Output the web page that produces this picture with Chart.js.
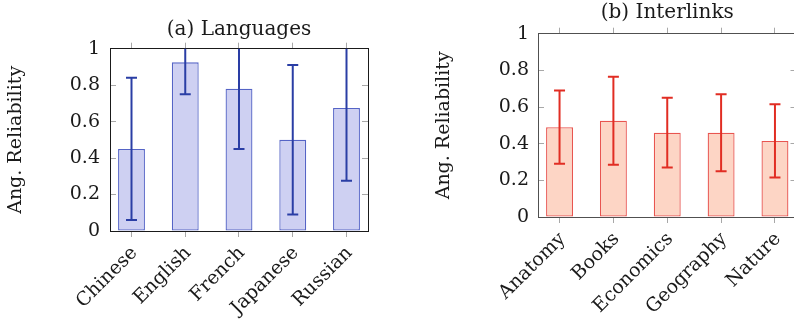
<!DOCTYPE html>
<html><head><meta charset="utf-8">
<script src="https://cdn.jsdelivr.net/npm/chart.js@4"></script>
<style>
html,body{margin:0;padding:0;overflow:hidden;background:#fff;width:794px;height:324px;position:relative;}
#ca{position:absolute;left:0;top:0;}
#cb{position:absolute;left:420px;top:0;}
</style></head><body>
<canvas id="ca" width="400" height="324"></canvas>
<canvas id="cb" width="400" height="324"></canvas>
<script>
const languages = ['Chinese', 'English', 'French', 'Japanese', 'Russian'];
const languageMeans = [0.45, 0.925, 0.78, 0.50, 0.675];
const languageErrors = [0.39, 0.175, 0.33, 0.41, 0.40];
const topics = ['Anatomy', 'Books', 'Economics', 'Geography', 'Nature'];
const topicMeans = [0.49, 0.525, 0.46, 0.46, 0.415];
const topicErrors = [0.20, 0.24, 0.19, 0.21, 0.20];
const yTicks = [0, 0.2, 0.4, 0.6, 0.8, 1];
const yLabel = 'Ang. Reliability';

const FONT = 'DejaVu Serif';
const TEXT = '#1a1a1a';
const TICKC = '#a8a8a8';

function errorBarPlugin(means, errors, color) {
  return {
    id: 'errorBars',
    afterDatasetsDraw(chart) {
      const {ctx, chartArea, scales} = chart;
      const xs = scales.x, ys = scales.y;
      ctx.save();
      ctx.beginPath();
      ctx.rect(chartArea.left, chartArea.top, chartArea.right - chartArea.left, chartArea.bottom - chartArea.top);
      ctx.clip();
      ctx.strokeStyle = color;
      ctx.lineWidth = 2;
      const cap = 5.5;
      means.forEach((m, i) => {
        const x = xs.getPixelForValue(i);
        const y1 = ys.getPixelForValue(m + errors[i]);
        const y2 = ys.getPixelForValue(m - errors[i]);
        ctx.beginPath();
        ctx.moveTo(x, y1); ctx.lineTo(x, y2);
        ctx.moveTo(x - cap, y1); ctx.lineTo(x + cap, y1);
        ctx.moveTo(x - cap, y2); ctx.lineTo(x + cap, y2);
        ctx.stroke();
      });
      ctx.restore();
    }
  };
}

function makeChart(id, cats, means, errors, title, st) {
  const catTicks = s => { s.ticks = cats.map((c, i) => ({value: i})); };
  const valTicks = s => { s.ticks = yTicks.map(v => ({value: v})); };
  const border = {display: true, color: st.frame, width: 1};
  return new Chart(document.getElementById(id), {
    type: 'bar',
    data: {
      datasets: [{
        data: cats.map((c, i) => ({x: i, y: means[i]})),
        xAxisID: 'x', yAxisID: 'y',
        backgroundColor: st.fill,
        borderColor: st.border,
        borderWidth: 1.3,
        borderSkipped: false,
        barPercentage: 0.5,
        categoryPercentage: 1
      }]
    },
    options: {
      responsive: false,
      animation: false,
      layout: {padding: {left: 0, right: st.padRight, top: 0, bottom: 0}},
      plugins: {legend: {display: false}, tooltip: {enabled: false}, title: {display: false}},
      scales: {
        x: {
          type: 'linear', position: 'bottom', min: -0.4, max: 4.4, offset: false, z: 1,
          afterBuildTicks: catTicks,
          ticks: {autoSkip: false, minRotation: 45, maxRotation: 45, padding: 5, labelOffset: 3,
                  font: {family: FONT, size: 19}, color: TEXT,
                  callback: v => cats[v]},
          grid: {drawOnChartArea: false, drawTicks: true, tickLength: 6, color: TICKC, offset: false},
          border: border,
          afterFit: s => { s.height = st.bottomH; }
        },
        x2: {
          type: 'linear', position: 'top', min: -0.4, max: 4.4, offset: false, z: 1,
          afterBuildTicks: catTicks,
          ticks: {display: false},
          grid: {drawOnChartArea: false, drawTicks: true, tickLength: 6, color: TICKC, offset: false},
          border: border,
          title: {display: true, text: title, font: {family: FONT, size: 20}, color: TEXT,
                  padding: {top: st.titlePad, bottom: 0}},
          afterFit: s => { s.height = st.topH; }
        },
        y: {
          type: 'linear', position: 'left', min: 0, max: 1, z: 1,
          afterBuildTicks: valTicks,
          ticks: {padding: st.tickPad, font: {family: FONT, size: 19}, color: TEXT,
                  callback: v => String(v)},
          grid: {drawOnChartArea: false, drawTicks: true, tickLength: -6, color: TICKC},
          border: border,
          title: {display: true, text: yLabel, font: {family: FONT, size: 19}, color: TEXT,
                  padding: {top: st.yTitlePad, bottom: 0}},
          afterFit: s => { s.width = st.leftW; }
        },
        y2: {
          type: 'linear', position: 'right', min: 0, max: 1, z: 1,
          afterBuildTicks: valTicks,
          ticks: {display: false},
          grid: {drawOnChartArea: false, drawTicks: true, tickLength: -6, color: TICKC},
          border: border,
          afterFit: s => { s.width = 0; }
        }
      }
    },
    plugins: [errorBarPlugin(means, errors, st.err)]
  });
}

makeChart('ca', languages, languageMeans, languageErrors, '(a) Languages', {
  fill: 'rgb(206,208,242)', border: 'rgb(85,100,198)', err: 'rgb(42,62,165)', frame: '#1a1a1a',
  padRight: 32, leftW: 110, topH: 48.7, bottomH: 93, titlePad: 18, yTitlePad: 4.6, tickPad: 16
});
makeChart('cb', topics, topicMeans, topicErrors, '(b) Interlinks', {
  fill: 'rgb(253,213,197)', border: 'rgb(232,85,80)', err: 'rgb(225,45,35)', frame: '#505050',
  padRight: 23.5, leftW: 118, topH: 33.7, bottomH: 107, titlePad: 0.5, yTitlePad: 12.6, tickPad: 15
});
</script>
</body></html>
